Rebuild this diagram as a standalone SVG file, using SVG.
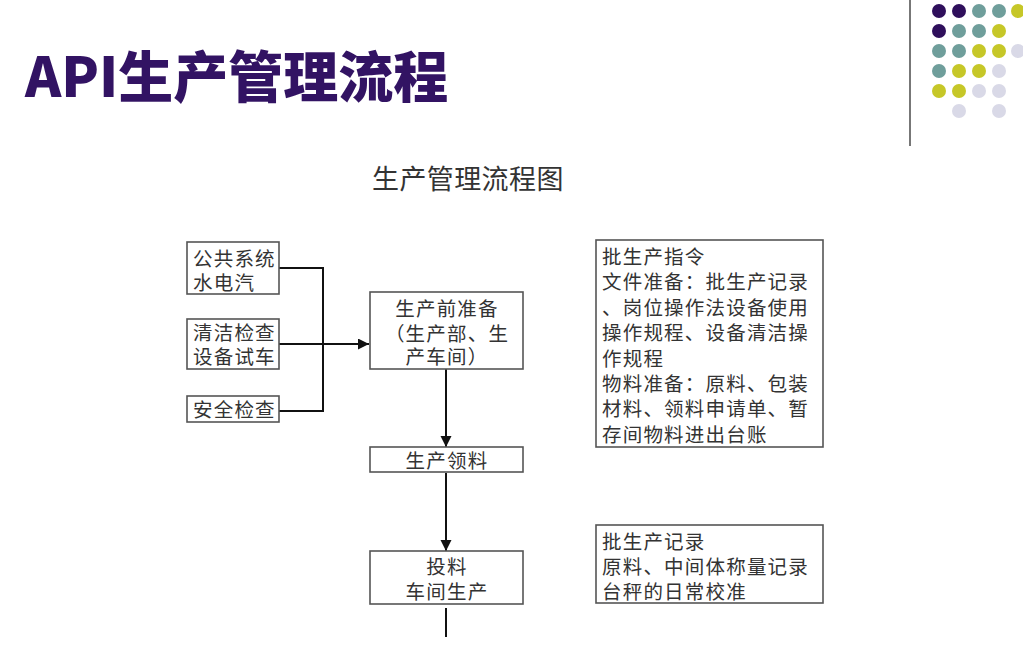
<svg xmlns="http://www.w3.org/2000/svg" width="1023" height="649" viewBox="0 0 1023 649">
<defs>
<style>
.box{fill:#fff;stroke:#555;stroke-width:1.6}
.t{font-family:"Liberation Sans","Noto Sans CJK SC",sans-serif;font-size:19.5px;letter-spacing:1.2px;fill:#333}
.c{text-anchor:middle}
.ln{stroke:#111;stroke-width:2;fill:none}
.p{fill:#2f0f5c}.g{fill:#6f9e9b}.y{fill:#c6c728}.l{fill:#d9d9e7}
</style>
<marker id="ah" markerUnits="userSpaceOnUse" markerWidth="12" markerHeight="12" refX="11" refY="5.5" orient="auto">
<path d="M0,0 L11,5.5 L0,11 z" fill="#111"/>
</marker>
</defs>
<rect width="1023" height="649" fill="#fff"/>
<g id="decor">
<line x1="910" y1="0" x2="910" y2="146" stroke="#777" stroke-width="2"/>
<circle class="p" cx="939" cy="11" r="7"/><circle class="p" cx="959" cy="11" r="7"/><circle class="g" cx="979" cy="11" r="7"/><circle class="g" cx="999" cy="11" r="7"/><circle class="y" cx="1018" cy="11" r="7"/>
<circle class="p" cx="939" cy="31" r="7"/><circle class="g" cx="959" cy="31" r="7"/><circle class="g" cx="979" cy="31" r="7"/><circle class="y" cx="999" cy="31" r="7"/>
<circle class="g" cx="939" cy="51" r="7"/><circle class="g" cx="959" cy="51" r="7"/><circle class="y" cx="979" cy="51" r="7"/><circle class="y" cx="999" cy="51" r="7"/><circle class="l" cx="1018" cy="51" r="7"/>
<circle class="g" cx="939" cy="71" r="7"/><circle class="y" cx="959" cy="71" r="7"/><circle class="y" cx="979" cy="71" r="7"/><circle class="l" cx="999" cy="71" r="7"/>
<circle class="y" cx="939" cy="91" r="7"/><circle class="y" cx="959" cy="91" r="7"/><circle class="l" cx="979" cy="91" r="7"/><circle class="l" cx="999" cy="91" r="7"/>
<circle class="l" cx="959" cy="111" r="7"/><circle class="l" cx="999" cy="111" r="7"/>
</g>
<text id="title" x="25" y="97" font-family="'Noto Sans CJK SC','Liberation Sans',sans-serif" font-size="55" font-weight="900" fill="#321363">API生产管理流程</text>
<text id="subtitle" x="372" y="189" font-family="'Liberation Sans','Noto Sans CJK SC',sans-serif" font-size="27" letter-spacing="0.4" fill="#333">生产管理流程图</text>
<g id="connectors">
<line class="ln" x1="279" y1="268" x2="323" y2="268"/>
<line class="ln" x1="279" y1="344" x2="323" y2="344"/>
<line class="ln" x1="279" y1="411" x2="323" y2="411"/>
<line class="ln" x1="323" y1="267" x2="323" y2="412"/>
<line class="ln" x1="323" y1="344" x2="369" y2="344" marker-end="url(#ah)"/>
<line class="ln" x1="446" y1="369" x2="446" y2="447" marker-end="url(#ah)"/>
<line class="ln" x1="446" y1="473" x2="446" y2="551" marker-end="url(#ah)"/>
<line class="ln" x1="446" y1="608" x2="446" y2="637"/>
</g>
<g id="n-utility">
<rect class="box" x="187" y="242" width="92" height="52"/>
<text class="t" x="193" y="266">公共系统</text>
<text class="t" x="193" y="290">水电汽</text>
</g>
<g id="n-clean">
<rect class="box" x="187" y="319" width="92" height="50"/>
<text class="t" x="193" y="340">清洁检查</text>
<text class="t" x="193" y="364">设备试车</text>
</g>
<g id="n-safety">
<rect class="box" x="187" y="396" width="92" height="26"/>
<text class="t" x="193" y="417">安全检查</text>
</g>
<g id="n-prep">
<rect class="box" x="370" y="292" width="153" height="77"/>
<text class="t c" x="447" y="316">生产前准备</text>
<text class="t c" x="447" y="341">（生产部、生</text>
<text class="t c" x="447" y="364">产车间）</text>
</g>
<g id="n-pick">
<rect class="box" x="370" y="447" width="153" height="25"/>
<text class="t c" x="447" y="468">生产领料</text>
</g>
<g id="n-feed">
<rect class="box" x="370" y="551" width="153" height="53"/>
<text class="t c" x="447" y="574">投料</text>
<text class="t c" x="447" y="599">车间生产</text>
</g>
<g id="n-docs1">
<rect class="box" x="596" y="240" width="227" height="207"/>
<text class="t" x="602" y="264">批生产指令</text>
<text class="t" x="602" y="289">文件准备：批生产记录</text>
<text class="t" x="602" y="315">、岗位操作法设备使用</text>
<text class="t" x="602" y="340">操作规程、设备清洁操</text>
<text class="t" x="602" y="366">作规程</text>
<text class="t" x="602" y="391">物料准备：原料、包装</text>
<text class="t" x="602" y="416">材料、领料申请单、暂</text>
<text class="t" x="602" y="442">存间物料进出台账</text>
</g>
<g id="n-docs2">
<rect class="box" x="596" y="525" width="227" height="78"/>
<text class="t" x="602" y="549">批生产记录</text>
<text class="t" x="602" y="574">原料、中间体称量记录</text>
<text class="t" x="602" y="599">台秤的日常校准</text>
</g>
</svg>
